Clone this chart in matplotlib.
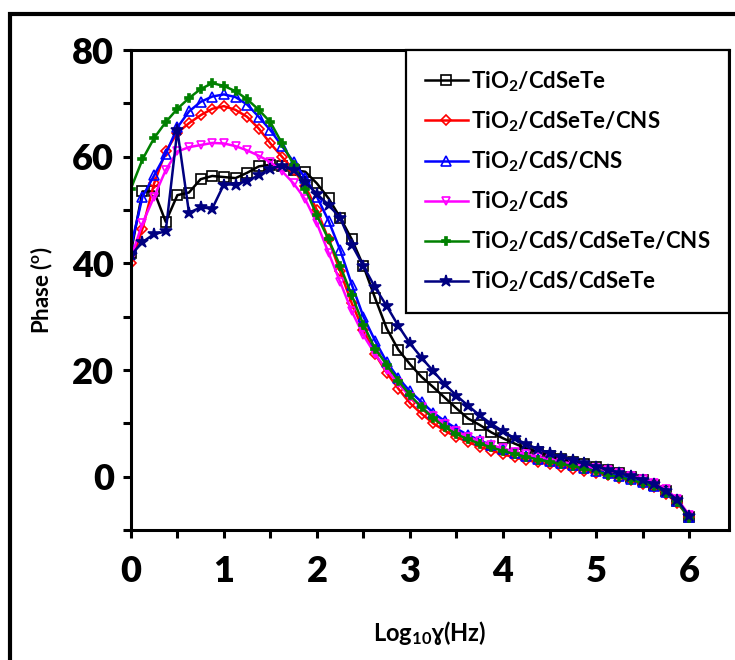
import matplotlib
matplotlib.use("Agg")
import matplotlib.pyplot as plt
from matplotlib.ticker import MultipleLocator
from matplotlib.patches import Rectangle

plt.rcParams['font.family'] = ['Lato', 'DejaVu Sans']
plt.rcParams['font.weight'] = 'bold'
plt.rcParams['mathtext.fontset'] = 'custom'
plt.rcParams['mathtext.rm'] = 'Lato:bold'
plt.rcParams['mathtext.it'] = 'Lato:bold'
plt.rcParams['mathtext.bf'] = 'Lato:bold'

# log10 frequency grid (Hz)
log_f = [0.0, 0.125, 0.25, 0.375, 0.5, 0.625, 0.75, 0.875,
         1.0, 1.125, 1.25, 1.375, 1.5, 1.625, 1.75, 1.875,
         2.0, 2.125, 2.25, 2.375, 2.5, 2.625, 2.75, 2.875,
         3.0, 3.125, 3.25, 3.375, 3.5, 3.625, 3.75, 3.875,
         4.0, 4.125, 4.25, 4.375, 4.5, 4.625, 4.75, 4.875,
         5.0, 5.125, 5.25, 5.375, 5.5, 5.625, 5.75, 5.875, 6.0]

# phase (deg)
tio2_cdsete = [42, 53.5, 53.5, 47.8, 52.8, 53.3, 55.8, 56.4,
               56.2, 56, 57, 58.2, 58.5, 58.3, 57.5, 57.2,
               55, 52.2, 48.6, 44.5, 39.5, 33.5, 27.8, 23.8,
               21.1, 18.7, 16.8, 14.8, 12.8, 10.9, 9.7, 8.3,
               7.2, 6.2, 5.3, 4.6, 3.9, 3.3, 2.8, 2.3,
               1.8, 1.2, 0.6, 0.0, -0.7, -1.5, -2.7, -4.5, -7.5]
tio2_cdsete_cns = [40, 46.5, 55, 61, 64.5, 66.3, 67.8, 69,
                   69.5, 68.8, 67.5, 65.3, 62.5, 60, 57.5, 54.5,
                   50, 44.5, 38.5, 32.5, 27.5, 23, 19.5, 16.5,
                   13.8, 11.8, 10, 8.6, 7.4, 6.5, 5.6, 4.9,
                   4.2, 3.6, 3.1, 2.7, 2.3, 1.9, 1.5, 1.1,
                   0.7, 0.3, -0.2, -0.7, -1.3, -2.0, -3.2, -5.0, -7.6]
tio2_cds_cns = [43, 52.5, 56.5, 60.5, 65.5, 68.5, 70.3, 71.3,
                71.7, 71.2, 69.8, 67.5, 65, 62, 59, 56,
                52.5, 48, 42.5, 36, 30, 25.5, 21.5, 18.5,
                16, 14, 12, 10.4, 9, 7.8, 6.8, 5.9,
                5.1, 4.5, 3.9, 3.4, 3.0, 2.5, 2.1, 1.6,
                1.1, 0.6, 0.1, -0.4, -1.0, -1.7, -2.9, -4.6, -7.5]
tio2_cds = [41, 47.5, 52.5, 57.5, 61, 61.8, 62.2, 62.6,
            62.5, 62, 61.2, 60.2, 59, 57.3, 55, 52,
            47.5, 42, 36.5, 31, 26.5, 23, 20, 17.5,
            15, 13, 11.3, 9.8, 8.5, 7.5, 6.6, 5.9,
            5.3, 4.7, 4.2, 3.7, 3.3, 2.8, 2.4, 2.0,
            1.6, 1.2, 0.7, 0.2, -0.4, -1.2, -2.4, -4.2, -7.2]
tio2_cds_cdsete_cns = [54, 59.5, 63.5, 66.5, 69, 71, 72.7, 73.8,
                       73.3, 72.3, 70.8, 68.8, 66.5, 62.5, 58.5, 54,
                       49, 44.5, 39.5, 34, 28.5, 24, 21, 18,
                       15.3, 13, 11, 9.3, 8, 7, 6.2, 5.5,
                       4.8, 4.2, 3.7, 3.2, 2.8, 2.4, 2.0, 1.5,
                       1.0, 0.4, -0.1, -0.6, -1.2, -1.8, -3.0, -4.8, -7.8]
tio2_cds_cdsete = [41.5, 44, 45.5, 46, 65, 49.5, 50.5, 50.3,
                   54.8, 54.8, 55.5, 56.5, 57.8, 58.3, 57.5, 55.3,
                   53, 51, 48.5, 43.5, 39.5, 35.5, 32, 28.3,
                   25, 22.3, 19.8, 17.3, 15.2, 13.3, 11.5, 9.9,
                   8.5, 7.2, 6.1, 5.2, 4.4, 3.7, 3.1, 2.5,
                   1.9, 1.3, 0.7, 0.1, -0.6, -1.4, -2.6, -4.4, -7.4]

labels = ['TiO$_2$/CdSeTe', 'TiO$_2$/CdSeTe/CNS', 'TiO$_2$/CdS/CNS',
          'TiO$_2$/CdS', 'TiO$_2$/CdS/CdSeTe/CNS', 'TiO$_2$/CdS/CdSeTe']
series = [tio2_cdsete, tio2_cdsete_cns, tio2_cds_cns,
          tio2_cds, tio2_cds_cdsete_cns, tio2_cds_cdsete]
colors = ['black', '#ff0000', '#0000ff', '#ff00ff', '#008000', '#000080']
markers = ['s', 'D', '^', 'v', 'P', '*']
msizes = [7, 5.5, 6.5, 6, 6, 9]
filled = [False, False, False, False, True, True]

fig = plt.figure(figsize=(7.35, 6.6), dpi=100)
ax = fig.add_axes([0.178, 0.197, 0.814, 0.727])

for y, lab, c, m, ms, fl in zip(series, labels, colors, markers, msizes, filled):
    ax.plot(log_f, y, color=c, lw=1.8, marker=m, ms=ms,
            mfc=c if fl else 'none', mec=c, mew=1.2, label=lab)

ax.set_xlim(0, 6.43)
ax.set_ylim(-10, 80)
ax.xaxis.set_major_locator(MultipleLocator(1))
ax.xaxis.set_minor_locator(MultipleLocator(0.5))
ax.yaxis.set_major_locator(MultipleLocator(20))
ax.yaxis.set_minor_locator(MultipleLocator(10))
ax.tick_params(which='both', direction='out', width=2.2, length=6,
               top=False, right=False)
ax.tick_params(axis='x', which='major', labelsize=26, pad=12)
ax.tick_params(axis='y', which='major', labelsize=26, pad=6)
for lbl in ax.get_xticklabels() + ax.get_yticklabels():
    lbl.set_fontweight('heavy')
for s in ax.spines.values():
    s.set_linewidth(2.2)

ax.set_ylabel('Phase ($^{\\mathrm{o}}$)', fontsize=16, fontweight='bold', labelpad=12)
ax.set_xlabel('Log$_{10}$ɣ(Hz)', fontsize=17, fontweight='bold', labelpad=22)

leg = ax.legend(loc='upper right', fontsize=16, frameon=True, fancybox=False,
                edgecolor='black', framealpha=1, borderaxespad=0,
                handlelength=1.9, labelspacing=0.7, borderpad=0.85,
                handletextpad=0.15)
leg.get_frame().set_linewidth(1.6)

fig.patches.append(Rectangle((10 / 735, -0.05), 1.2, 1 - 14 / 660 + 0.05,
                             transform=fig.transFigure, fill=False,
                             edgecolor='black', lw=3, zorder=10))

fig.savefig('out.png', dpi=100)
